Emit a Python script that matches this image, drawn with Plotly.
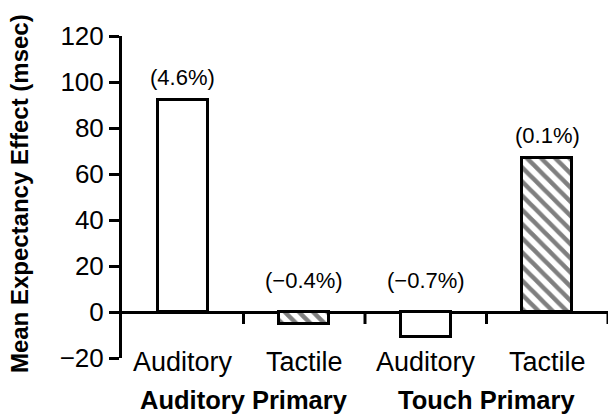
import plotly.graph_objects as go

# Expectancy effects per modality within each primary condition
modalities = ["Auditory", "Tactile", "Auditory", "Tactile"]
groups = ["Auditory Primary", "Touch Primary"]
effect_msec = [92, -5, -11, 67]
error_pct = ["(4.6%)", "(\u22120.4%)", "(\u22120.7%)", "(0.1%)"]
hatched = [False, True, False, True]
y_ticks = [-20, 0, 20, 40, 60, 80, 100, 120]

FONT = "Liberation Sans, Arial, Helvetica, sans-serif"
xs = list(range(len(effect_msec)))

fig = go.Figure()
fig.add_trace(go.Bar(
    x=xs,
    y=effect_msec,
    width=0.41,
    marker=dict(
        color="white",
        line=dict(color="black", width=3),
        pattern=dict(
            shape=["\\" if h else "" for h in hatched],
            fgcolor="black",
            bgcolor="white",
            size=10,
            solidity=0.45,
        ),
    ),
    showlegend=False,
    hoverinfo="skip",
))

annotations = []
# percentage labels above each bar (or above the baseline for negative bars)
for x, v, t in zip(xs, effect_msec, error_pct):
    annotations.append(dict(
        x=x, y=max(v, 0), xref="x", yref="y", text=t, showarrow=False,
        yanchor="bottom", yshift=8 if v > 0 else 17,
        font=dict(family=FONT, size=22, color="black"),
    ))
# modality labels under the axis
for x, m in zip(xs, modalities):
    annotations.append(dict(
        x=x, y=0, xref="x", yref="paper", text=m, showarrow=False,
        yanchor="middle", yshift=-4,
        font=dict(family=FONT, size=27, color="black"),
    ))
# group labels
for i, g in enumerate(groups):
    annotations.append(dict(
        x=2 * i + 0.5, y=0, xref="x", yref="paper", text="<b>" + g + "</b>",
        showarrow=False, yanchor="middle", yshift=-42,
        font=dict(family=FONT, size=25.5, color="black"),
    ))
# y-axis title
annotations.append(dict(
    x=-0.212, y=0.512, xref="paper", yref="paper",
    text="<b>Mean Expectancy Effect (msec)</b>", textangle=-90,
    showarrow=False, xanchor="center", yanchor="middle",
    font=dict(family=FONT, size=24, color="black"),
))

# short downward ticks on the baseline between categories and at its end
shapes = [
    dict(type="line", xref="x", yref="y", x0=x + 0.5, x1=x + 0.5,
         ysizemode="pixel", yanchor=0, y0=0, y1=-12,
         line=dict(color="black", width=3))
    for x in xs
]

fig.update_layout(
    width=608, height=417,
    margin=dict(l=122, r=0, t=36, b=59),
    paper_bgcolor="white", plot_bgcolor="white",
    bargap=0,
    annotations=annotations,
    shapes=shapes,
    xaxis=dict(
        range=[-0.5, 3.5], showgrid=False, zeroline=False, showline=False,
        showticklabels=False, ticks="",
    ),
    yaxis=dict(
        range=[y_ticks[0], y_ticks[-1]], tickvals=y_ticks,
        ticktext=[("\u2212" + str(-v)) if v < 0 else str(v) for v in y_ticks],
        showgrid=False, showline=True, linecolor="black", linewidth=3,
        ticks="outside", ticklen=10, tickwidth=3, tickcolor="black",
        zeroline=True, zerolinecolor="black", zerolinewidth=3,
        tickfont=dict(family=FONT, size=26, color="black"),
    ),
)

fig.write_html("out.html")
